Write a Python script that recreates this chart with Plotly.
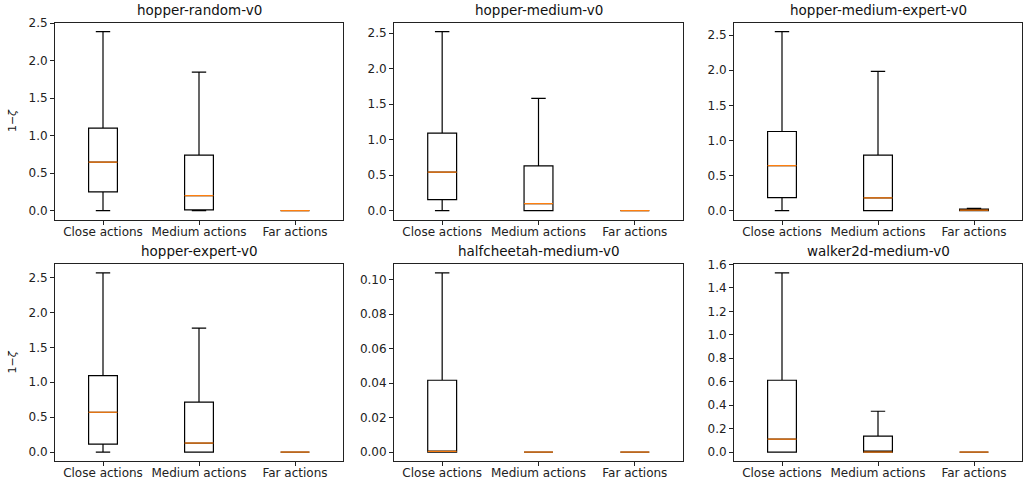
import plotly.graph_objects as go

W, H = 1023, 479

titles = ["hopper-random-v0", "hopper-medium-v0", "hopper-medium-expert-v0",
          "hopper-expert-v0", "halfcheetah-medium-v0", "walker2d-medium-v0"]
categories = ["Close actions", "Medium actions", "Far actions"]
positions = [1, 2, 3]

# per panel: [Close, Medium, Far]
q1 = [
    [0.25, 0.01, 0.0],
    [0.155, 0.0, 0.0],
    [0.185, 0.0, 0.0],
    [0.114, 0.0, 0.0],
    [0.0, 0.0, 0.0],
    [0.0, 0.0, 0.0],
]
median = [
    [0.647, 0.20, 0.0],
    [0.54, 0.098, 0.0],
    [0.64, 0.18, 0.005],
    [0.57, 0.129, 0.0],
    [0.0004, 0.0, 0.0],
    [0.11, 0.0, 0.0],
]
q3 = [
    [1.10, 0.74, 0.0],
    [1.09, 0.63, 0.0],
    [1.127, 0.79, 0.02],
    [1.095, 0.714, 0.0],
    [0.0417, 0.0, 0.0],
    [0.612, 0.136, 0.0],
]
lower = [
    [0.0, 0.0, 0.0],
    [0.0, 0.0, 0.0],
    [0.0, 0.0, 0.0],
    [0.0, 0.0, 0.0],
    [0.0, 0.0, 0.0],
    [0.0, 0.0, 0.0],
]
upper = [
    [2.386, 1.846, 0.0],
    [2.52, 1.58, 0.0],
    [2.55, 1.984, 0.03],
    [2.565, 1.776, 0.0],
    [0.104, 0.0, 0.0],
    [1.527, 0.348, 0.0],
]
dticks = [0.5, 0.5, 0.5, 0.5, 0.02, 0.2]
tickfmts = [".1f", ".1f", ".1f", ".1f", ".2f", ".1f"]

box_w = 0.3
font_family = "DejaVu Sans"

# axes boxes in page pixels (left, right) and (top, bottom)
cols_px = [(55, 343), (394, 683), (734, 1022)]
rows_px = [(22.7, 219.5), (264, 461)]

fig = go.Figure()
for i in range(6):
    r, c = divmod(i, 3)
    n = i + 1
    xa = "x" if n == 1 else f"x{n}"
    ya = "y" if n == 1 else f"y{n}"
    fig.add_trace(go.Box(
        x=positions, q1=q1[i], median=median[i], q3=q3[i],
        lowerfence=lower[i], upperfence=upper[i],
        width=box_w, whiskerwidth=0.5, boxpoints=False,
        line=dict(color="black", width=1.2), fillcolor="rgba(0,0,0,0)",
        xaxis=xa, yaxis=ya, showlegend=False, hoverinfo="skip"))
    mx, my = [], []
    for p, m in zip(positions, median[i]):
        mx += [p - box_w / 2, p + box_w / 2, None]
        my += [m, m, None]
    fig.add_trace(go.Scatter(x=mx, y=my, mode="lines",
                             line=dict(color="#ff7f0e", width=1.2),
                             xaxis=xa, yaxis=ya, showlegend=False, hoverinfo="skip"))

    lo = min(lower[i]); hi = max(upper[i]); span = hi - lo
    yr = [lo - 0.05 * span, hi + 0.05 * span]
    x0, x1 = cols_px[c]
    t, b = rows_px[r]
    axis_common = dict(showgrid=False, zeroline=False, showline=True, mirror=True,
                       linecolor="#222", linewidth=1, ticks="outside", ticklen=4,
                       tickcolor="#222", tickfont=dict(family=font_family, size=12, color="#222"),
                       automargin=False)
    fig.layout[f"xaxis{'' if n == 1 else n}"] = dict(
        domain=[x0 / W, x1 / W], range=[0.5, 3.5], anchor=ya,
        tickvals=positions, ticktext=categories, ticklabelstandoff=-3, **axis_common)
    fig.layout[f"yaxis{'' if n == 1 else n}"] = dict(
        domain=[1 - b / H, 1 - t / H], range=yr, anchor=xa,
        dtick=dticks[i], tick0=0, tickformat=tickfmts[i], **axis_common)
    fig.add_annotation(text=titles[i], x=(x0 + x1) / 2 / W, y=1 - (t - 3) / H,
                       xref="paper", yref="paper", xanchor="center", yanchor="bottom",
                       showarrow=False, font=dict(family=font_family, size=13.5, color="#111"))
    if c == 0:
        fig.add_annotation(text="1−<i>ζ</i>", x=12 / W, y=1 - ((t + b) / 2) / H,
                           xref="paper", yref="paper", textangle=-90,
                           xanchor="center", yanchor="middle", showarrow=False,
                           font=dict(family=font_family, size=11, color="#111"))

fig.update_layout(width=W, height=H, margin=dict(l=0, r=0, t=0, b=0),
                  paper_bgcolor="white", plot_bgcolor="white",
                  font=dict(family=font_family))
fig.write_html("out.html", config={"displayModeBar": False},
               post_script="document.body.style.margin='0';document.body.style.overflow='hidden';")
